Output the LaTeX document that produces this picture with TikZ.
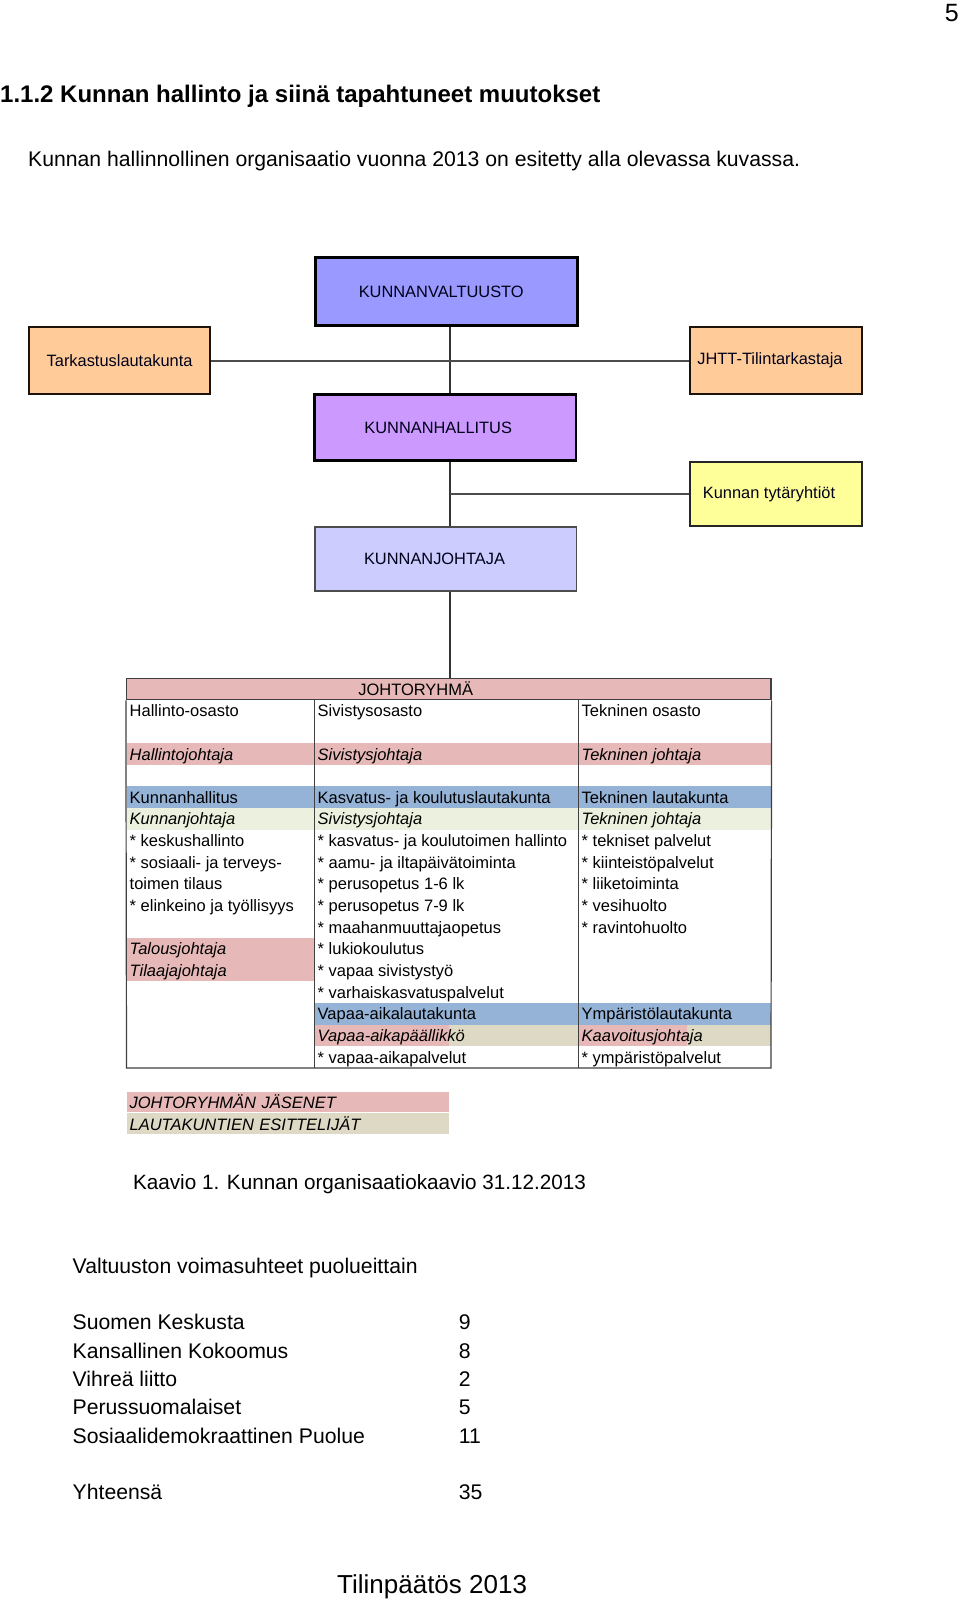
\documentclass[tikz,border=0pt]{standalone}
\usepackage{fontspec}
\setmainfont{Liberation Sans}
\usepackage{tikz}
\usetikzlibrary{%
  positioning%
}

\definecolor{valtblue}{HTML}{9999FF}
\definecolor{hallviolet}{HTML}{CC99FF}
\definecolor{johtlilac}{HTML}{CCCCFF}
\definecolor{tarkorange}{HTML}{FFCC99}
\definecolor{tytyellow}{HTML}{FFFF99}
\definecolor{rowpink}{HTML}{E6B9B8}
\definecolor{rowblue}{HTML}{95B3D7}
\definecolor{rowgreen}{HTML}{EBF1DE}
\definecolor{rowtan}{HTML}{DDD9C4}

\newcommand{\pxsize}[1]{\fontsize{#1}{#1}\selectfont}

\begin{document}
\begin{tikzpicture}
    [   x=1pt, y=-1pt
    ,   text=black
    ,   orgbox/.style=
            {   % the box
                rectangle
            ,   inner sep=0pt
            ,   draw=black
            ,   % the text
                text=black!90!blue
            ,   font=\pxsize{16.4}
            }
    ,   textleft/.style={execute at begin node={\hspace*{-#1pt}}}
    ,   link/.style={line width=2pt, black!80}
    ,   grid/.style={line width=1.2pt, black!75}
    ,   cell/.style={anchor=base west, inner sep=0pt, font=\pxsize{16.5}}
    ,   celli/.style={cell, font=\pxsize{16.5}\itshape}
    ,   body/.style={anchor=base west, inner sep=0pt, font=\pxsize{21.2}}
    ]
    \useasboundingbox[fill=white] (0,0) rectangle (960,1601);

    % page head
    \node[anchor=base east, inner sep=0pt, font=\pxsize{25}] (pagenum) at (959,21.5) {5};
    \node[anchor=base west, inner sep=0pt, font=\pxsize{24}\bfseries] (heading) at (0,102)
        {1.1.2 Kunnan hallinto ja siinä tapahtuneet muutokset};
    \node[body] (intro) at (28,166)
        {Kunnan hallinnollinen organisaatio vuonna 2013 on esitetty alla olevassa kuvassa.};

    % organisaatiokaavio
    \coordinate (spine) at (450,0);
    \node[orgbox, textleft=10, line width=3pt, fill=valtblue, minimum width=262.5, minimum height=68]
        (valt) at (446.25,291.5) {KUNNANVALTUUSTO};
    \node[orgbox, line width=2pt, draw=black!85!brown, fill=tarkorange, minimum width=180.8, minimum height=67.6]
        (tark) at (119.6,360.5) {Tarkastuslautakunta};
    \node[orgbox, textleft=12, line width=2pt, draw=black!85!brown, fill=tarkorange, minimum width=172, minimum height=67.6]
        (jhtt) at (776,360.5) {JHTT-Tilintarkastaja};
    \node[orgbox, textleft=14, line width=2.5pt, fill=hallviolet, minimum width=261.3, minimum height=66]
        (hall) at (445.2,427.5) {KUNNANHALLITUS};
    \node[orgbox, textleft=14, line width=2pt, draw=black!85, fill=tytyellow, minimum width=172, minimum height=63.4]
        (tyt) at (776,494) {Kunnan tytäryhtiöt};
    \node[orgbox, textleft=22, line width=1.5pt, draw=black!70, fill=johtlilac, minimum width=261.5, minimum height=64.2]
        (joht) at (445.5,558.85) {KUNNANJOHTAJA};

    % johtoryhma
    \fill[rowpink]  (126.5,743.1)  rectangle (771,764.8);
    \fill[rowblue]  (126.5,786.4)  rectangle (771,808.1);
    \fill[rowgreen] (126.5,808.1)  rectangle (771,829.7);
    \fill[rowpink]  (126.5,938)    rectangle (314.5,981.3);
    \fill[rowblue]  (314.5,1002.9) rectangle (771,1024.6);
    \fill[rowtan]   (314.5,1024.6) rectangle (771,1046.2);
    \fill[rowpink]  (314.5,1024.6) rectangle (449,1046.2);
    \fill[rowpink]  (578.5,1024.6) rectangle (687,1046.2);
    \node[draw=black!75, line width=1.2pt, fill=rowpink, minimum width=644.5, minimum height=21.6, inner sep=0pt]
        (johto) at (448.75,689) {};
    \draw[grid] (johto.south west) -- (126.5,1067.9) -- (771,1067.9) -- (johto.south east);
    \draw[grid] (314.5,699.8) -- (314.5,1067.9);
    \draw[grid] (578.5,699.8) -- (578.5,1067.9);

    % connectors
    \draw[link] (valt.south -| spine) -- (hall.north -| spine);
    \draw[link] (hall.south -| spine) -- (joht.north -| spine);
    \draw[link] (joht.south -| spine) -- (johto.north -| spine);
    \draw[link, black!70] (tark.east) -- (jhtt.west);
    \draw[link, black!70] (tyt.west -| spine) -- (tyt.west);

    \node[cell, anchor=base] (jr) at (415.7,695) {JOHTORYHMÄ};
    \node[cell] (ho) at (129.5,716.7) {Hallinto-osasto};
    \node[cell] (so) at (317.5,716.7) {Sivistysosasto};
    \node[cell] (to) at (581.5,716.7) {Tekninen osasto};
    \node[celli] (hj) at (129.5,760) {Hallintojohtaja};
    \node[celli] (sj) at (317.5,760) {Sivistysjohtaja};
    \node[celli] (tj) at (581.5,760) {Tekninen johtaja};
    \node[cell] (khl) at (129.5,803.3) {Kunnanhallitus};
    \node[cell] (kkl) at (317.5,803.3) {Kasvatus- ja koulutuslautakunta};
    \node[cell] (tl) at (581.5,803.3) {Tekninen lautakunta};
    \node[celli] (kj2) at (129.5,824.9) {Kunnanjohtaja};
    \node[celli] (sj2) at (317.5,824.9) {Sivistysjohtaja};
    \node[celli] (tj2) at (581.5,824.9) {Tekninen johtaja};
    \node[cell] (ha1) at (129.5,846.6) {* keskushallinto};
    \node[cell] (ha2) at (129.5,868.2) {* sosiaali- ja terveys-};
    \node[cell] (ha3) at (129.5,889.9) {toimen tilaus};
    \node[cell] (ha4) at (129.5,911.5) {* elinkeino ja työllisyys};
    \node[celli] (talj) at (129.5,954.8) {Talousjohtaja};
    \node[celli] (tilj) at (129.5,976.5) {Tilaajajohtaja};
    \node[cell] (si1) at (317.5,846.6) {* kasvatus- ja koulutoimen hallinto};
    \node[cell] (si2) at (317.5,868.2) {* aamu- ja iltapäivätoiminta};
    \node[cell] (si3) at (317.5,889.9) {* perusopetus 1-6 lk};
    \node[cell] (si4) at (317.5,911.5) {* perusopetus 7-9 lk};
    \node[cell] (si5) at (317.5,933.2) {* maahanmuuttajaopetus};
    \node[cell] (si6) at (317.5,954.8) {* lukiokoulutus};
    \node[cell] (si7) at (317.5,976.5) {* vapaa sivistystyö};
    \node[cell] (si8) at (317.5,998.1) {* varhaiskasvatuspalvelut};
    \node[cell] (te1) at (581.5,846.6) {* tekniset palvelut};
    \node[cell] (te2) at (581.5,868.2) {* kiinteistöpalvelut};
    \node[cell] (te3) at (581.5,889.9) {* liiketoiminta};
    \node[cell] (te4) at (581.5,911.5) {* vesihuolto};
    \node[cell] (te5) at (581.5,933.2) {* ravintohuolto};
    \node[cell] (val) at (317.5,1019.8) {Vapaa-aikalautakunta};
    \node[cell] (yml) at (581.5,1019.8) {Ympäristölautakunta};
    \node[celli] (vap) at (317.5,1041.4) {Vapaa-aikapäällikkö};
    \node[celli] (kaj) at (581.5,1041.4) {Kaavoitusjohtaja};
    \node[cell] (vpp) at (317.5,1063.1) {* vapaa-aikapalvelut};
    \node[cell] (ymp) at (581.5,1063.1) {* ympäristöpalvelut};

    % selitteet
    \node[fill=rowpink, minimum width=322.8, minimum height=20.4, text width=316.8, inner xsep=3pt,
        inner ysep=0pt, align=left, font=\pxsize{16.5}\itshape] (leg1) at (288,1102) {JOHTORYHMÄN JÄSENET};
    \node[fill=rowtan, minimum width=322.8, minimum height=21.4, text width=316.8, inner xsep=3pt,
        inner ysep=0pt, align=left, font=\pxsize{16.5}\itshape, below=0pt of leg1] (leg2) {LAUTAKUNTIEN ESITTELIJÄT};

    \node[body, font=\pxsize{20.7}] (caption) at (132.8,1189) {Kaavio 1. Kunnan organisaatiokaavio 31.12.2013};

    % valtuusto
    \node[body] (vs) at (72.5,1273.6) {Valtuuston voimasuhteet puolueittain};
    \node[body] (kesk) at (72.5,1329.7) {Suomen Keskusta};
    \node[body] (kok)  at (72.5,1358.3) {Kansallinen Kokoomus};
    \node[body] (vihr) at (72.5,1386)   {Vihreä liitto};
    \node[body] (ps)   at (72.5,1414.5) {Perussuomalaiset};
    \node[body] (sdp)  at (72.5,1443)   {Sosiaalidemokraattinen Puolue};
    \node[body] (yht)  at (72.5,1499.3) {Yhteensä};
    \node[body] (keskn) at (458.6,1329.7) {9};
    \node[body] (kokn)  at (458.6,1358.3) {8};
    \node[body] (vihrn) at (458.6,1386)   {2};
    \node[body] (psn)   at (458.6,1414.5) {5};
    \node[body] (sdpn)  at (458.6,1443)   {11};
    \node[body] (yhtn)  at (458.6,1499.3) {35};

    \node[body, font=\pxsize{26}] (footer) at (337,1593) {Tilinpäätös 2013};
\end{tikzpicture}
\end{document}
